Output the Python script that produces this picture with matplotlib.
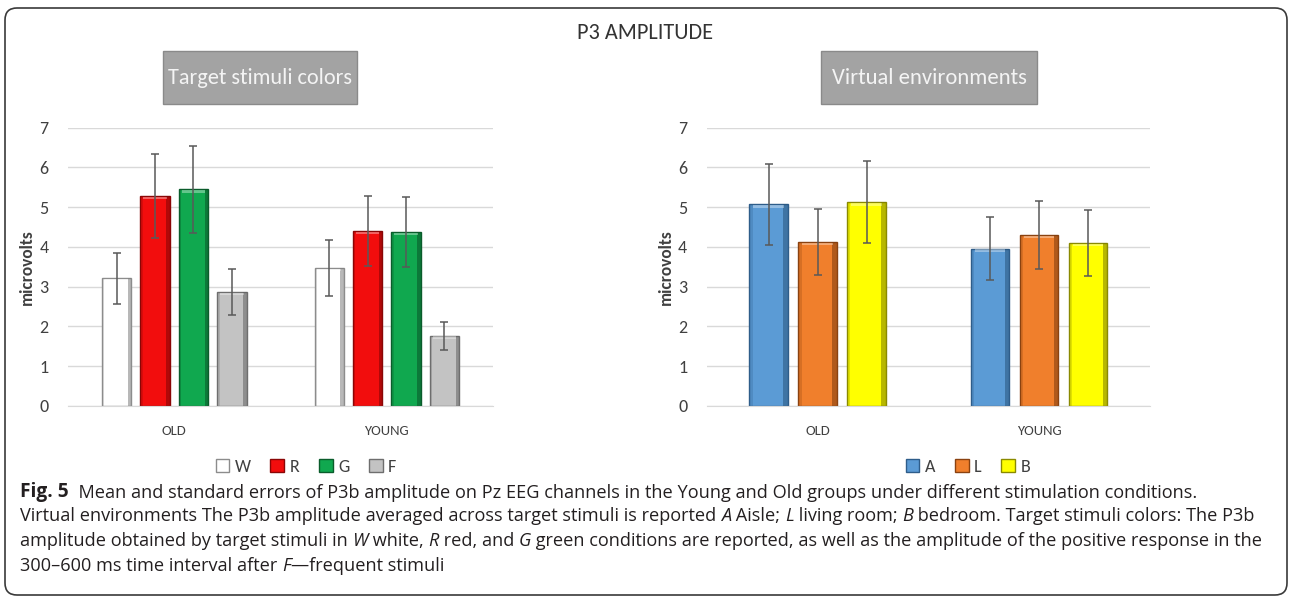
import numpy as np
import matplotlib
matplotlib.use("Agg")
import matplotlib.pyplot as plt
from matplotlib import font_manager
from matplotlib.patches import Patch, Rectangle, FancyBboxPatch
from matplotlib.transforms import IdentityTransform
from matplotlib.text import Annotation

# ---------------- data ----------------
groups = ["OLD", "YOUNG"]

color_labels = ["W", "R", "G", "F"]
W_mean = [3.21, 3.47]
R_mean = [5.28, 4.40]
G_mean = [5.45, 4.37]
F_mean = [2.87, 1.77]
W_sem = [0.65, 0.71]
R_sem = [1.05, 0.88]
G_sem = [1.09, 0.88]
F_sem = [0.58, 0.35]

env_labels = ["A", "L", "B"]
A_mean = [5.07, 3.96]
L_mean = [4.12, 4.30]
B_mean = [5.12, 4.10]
A_sem = [1.02, 0.80]
L_sem = [0.83, 0.86]
B_sem = [1.03, 0.82]

y_ticks = [0, 1, 2, 3, 4, 5, 6, 7]

# ---------------- fonts ----------------
names = {f.name for f in font_manager.fontManager.ttflist}
chart_font = "Carlito" if "Carlito" in names else "Lato"
cap_font = "Open Sans"
plt.rcParams["font.family"] = [chart_font, "DejaVu Sans"]

W, H = 1290, 599
fig = plt.figure(figsize=(W / 100, H / 100), dpi=100)
bg = fig.add_axes([0, 0, 1, 1], zorder=-5)
bg.set_xlim(0, 1); bg.set_ylim(0, 1); bg.axis("off")

def fx(px):
    return px / W

def fy(py):
    return 1 - py / H

# outer rounded frame
frame = FancyBboxPatch((5, H - 595), 1282, 587,
                       boxstyle="round,pad=0,rounding_size=12",
                       transform=IdentityTransform(), fill=False,
                       ec="#3a3a3a", lw=1.2)
fig.add_artist(frame)

fig.text(fx(645), fy(33), "P3 AMPLITUDE", ha="center", va="center",
         fontsize=16, color="#333333")

def title_box(x0, x1, text, size):
    r = Rectangle((fx(x0), fy(104)), fx(x1) - fx(x0), fy(51) - fy(104),
                  transform=fig.transFigure, fc="#a3a3a3", ec="#8a8a8a", lw=1)
    fig.add_artist(r)
    fig.text(fx((x0 + x1) / 2), fy(78), text, ha="center", va="center",
             fontsize=size, color="#f4f4f4")

title_box(163, 357, "Target stimuli colors", 16.0)
title_box(821, 1037, "Virtual environments", 16.3)

def darker(c, f=0.6):
    rgb = np.array(matplotlib.colors.to_rgb(c))
    return tuple(rgb * f)

def style_axes(ax):
    ax.set_ylim(0, 7)
    ax.set_xlim(-0.5, 1.5)
    ax.set_yticks(y_ticks)
    ax.set_yticklabels([str(t) for t in y_ticks])
    ax.yaxis.grid(True, color="#d9d9d9", lw=1)
    ax.set_axisbelow(True)
    for s in ["top", "right", "left"]:
        ax.spines[s].set_visible(False)
    ax.spines["bottom"].set_color("#d9d9d9")
    ax.tick_params(axis="both", length=0)
    ax.tick_params(axis="y", labelsize=13, colors="#404040", pad=14)
    ax.tick_params(axis="x", labelsize=10.5, colors="#404040", pad=14)
    ax.set_xticks(range(len(groups)))
    ax.set_xticklabels(groups)
    ax.set_ylabel("microvolts", fontsize=12.5, fontweight="bold", color="#404040",
                  labelpad=3)

def draw_bars(ax, means, sems, colors, edges, slot, width):
    n = len(means)
    x = np.arange(len(groups))
    for i, (m, s, c, e) in enumerate(zip(means, sems, colors, edges)):
        xi = x + (i - (n - 1) / 2) * slot
        ax.bar(xi, m, width=width, color=c, edgecolor=e, lw=1.0, zorder=2)
        # bevel: dark right strip, light top strip
        ax.bar(xi + width * 0.44, m, width=width * 0.12, color=darker(e, 0.9),
               lw=0, zorder=3, alpha=0.55)
        ax.bar(xi - width * 0.46, m, width=width * 0.08, color=darker(e, 1.0),
               lw=0, zorder=3, alpha=0.25)
        ax.bar(xi, np.array(m) * 0.0 + 0.06, bottom=np.array(m) - 0.08,
               width=width * 0.8, color="white", alpha=0.35, lw=0, zorder=3)
        ax.errorbar(xi, m, yerr=s, fmt="none", ecolor="#595959", elinewidth=1.1,
                    capsize=3, capthick=1.1, zorder=4)

# left chart
ax1 = fig.add_axes([fx(68), 1 - 406 / H, fx(493) - fx(68), (406 - 127.7) / H])
style_axes(ax1)
c_cols = ["#ffffff", "#f20d0d", "#10a84f", "#c3c3c3"]
c_edges = ["#8c8c8c", "#8a0606", "#0a5c2b", "#6e6e6e"]
draw_bars(ax1, [W_mean, R_mean, G_mean, F_mean], [W_sem, R_sem, G_sem, F_sem],
          c_cols, c_edges, slot=0.181, width=0.137)

# right chart
ax2 = fig.add_axes([fx(706.7), 1 - 406 / H, fx(1150) - fx(706.7), (406 - 127.7) / H])
style_axes(ax2)
e_cols = ["#5b9bd5", "#f07f2c", "#ffff00"]
e_edges = ["#2e5d8a", "#8a4210", "#8a8a00"]
draw_bars(ax2, [A_mean, L_mean, B_mean], [A_sem, L_sem, B_sem],
          e_cols, e_edges, slot=0.221, width=0.172)

# legends
h1 = [Patch(fc=c, ec=e, lw=1) for c, e in zip(c_cols, c_edges)]
fig.legend(h1, color_labels, loc="center", bbox_to_anchor=(fx(306), fy(467)),
           ncol=4, frameon=False, fontsize=13, handlelength=0.75, handleheight=0.75,
           handletextpad=0.3, columnspacing=1.1, labelcolor="#404040")
h2 = [Patch(fc=c, ec=e, lw=1) for c, e in zip(e_cols, e_edges)]
fig.legend(h2, env_labels, loc="center", bbox_to_anchor=(fx(968), fy(467)),
           ncol=3, frameon=False, fontsize=13, handlelength=0.75, handleheight=0.75,
           handletextpad=0.3, columnspacing=1.1, labelcolor="#404040")

# caption
cap_size = 13.1
cap_lines = [
    [("Fig. 5", "b"), ("  Mean and standard errors of P3b amplitude on Pz EEG channels in the Young and Old groups under different stimulation conditions.", "n")],
    [("Virtual environments The P3b amplitude averaged across target stimuli is reported ", "n"), ("A", "i"),
     (" Aisle; ", "n"), ("L", "i"), (" living room; ", "n"), ("B", "i"),
     (" bedroom. Target stimuli colors: The P3b", "n")],
    [("amplitude obtained by target stimuli in ", "n"), ("W", "i"), (" white, ", "n"), ("R", "i"),
     (" red, and ", "n"), ("G", "i"),
     (" green conditions are reported, as well as the amplitude of the positive response in the", "n")],
    [("300\u2013600 ms time interval after ", "n"), ("F", "i"), ("\u2014frequent stimuli", "n")],
]
baselines = [497, 521, 546, 571]
for segs, yb in zip(cap_lines, baselines):
    prev = None
    for txt, st in segs:
        kw = dict(fontsize=cap_size, color="#231f20", family=[cap_font, "DejaVu Sans"])
        if st == "b":
            kw["fontweight"] = "bold"
            kw["fontsize"] = cap_size * 1.05
        if st == "i":
            kw["fontstyle"] = "italic"
        if prev is None:
            prev = fig.text(fx(20), fy(yb), txt, ha="left", va="baseline", **kw)
        else:
            a = Annotation(txt, xy=(1, 0), xycoords=prev, ha="left", va="bottom", **kw)
            fig.add_artist(a)
            prev = a

fig.savefig("out.png", dpi=100)
